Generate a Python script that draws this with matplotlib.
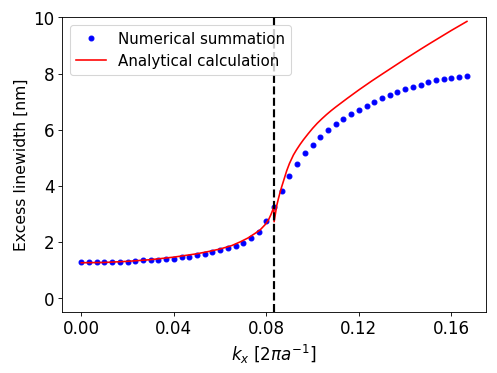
import numpy as np
import matplotlib
matplotlib.use("Agg")
import matplotlib.pyplot as plt

# Numerical summation (51 points, k_x from 0 to 1/6)
kx_num = np.linspace(0, 1/6, 51)
lw_num = [1.28, 1.28, 1.28, 1.28, 1.28, 1.29, 1.30, 1.33, 1.34, 1.35,
          1.36, 1.39, 1.41, 1.45, 1.48, 1.52, 1.57, 1.63, 1.70, 1.78,
          1.86, 1.98, 2.15, 2.37, 2.74, 3.24, 3.82, 4.34, 4.79, 5.16,
          5.47, 5.75, 5.99, 6.19, 6.39, 6.56, 6.71, 6.86, 6.99, 7.12,
          7.22, 7.34, 7.44, 7.53, 7.60, 7.69, 7.76, 7.81, 7.84, 7.88, 7.92]

# Analytical calculation
kx_ana = [0.0, 0.01, 0.02, 0.03, 0.04, 0.045, 0.05, 0.055, 0.06, 0.065,
          0.0686, 0.072, 0.075, 0.0773, 0.0795, 0.0810, 0.0820, 0.0828, 0.0832,
          0.08335, 0.0840, 0.0845, 0.0852, 0.0859, 0.0866, 0.0874, 0.0888,
          0.0900, 0.0917, 0.0930, 0.0946, 0.0960, 0.0980, 0.1000, 0.1020,
          0.1040, 0.1060, 0.1080, 0.1100, 0.1150,
          0.1200, 0.1256, 0.1300, 0.1350, 0.1400, 0.1465, 0.1508, 0.1550,
          0.1600, 0.1667]
lw_ana = [1.26, 1.27, 1.31, 1.37, 1.46, 1.52, 1.58, 1.66, 1.75, 1.87,
          2.00, 2.14, 2.30, 2.43, 2.62, 2.80, 2.98, 3.15, 3.28,
          2.72, 3.05, 3.30, 3.54, 3.76, 3.96, 4.17, 4.54,
          4.80, 5.10, 5.28, 5.48, 5.64, 5.85, 6.05, 6.23,
          6.39, 6.54, 6.68, 6.81, 7.12,
          7.42, 7.74, 7.98, 8.25, 8.52, 8.86, 9.08, 9.29,
          9.54, 9.86]

k_crit = 1/12
xticks = [0.00, 0.04, 0.08, 0.12, 0.16]
yticks = [0, 2, 4, 6, 8, 10]

fig = plt.figure(figsize=(6.4, 4.8), dpi=77.8)
ax = fig.add_axes([0.1245, 0.163, 0.852, 0.789])

ax.plot(kx_num, lw_num, 'b.', ms=9, label='Numerical summation')
ax.plot(kx_ana, lw_ana, 'r-', lw=1.5, label='Analytical calculation')
ax.axvline(k_crit, color='k', ls='--', lw=2)

ax.set_ylim(-0.5, 10)
ax.set_xticks(xticks)
ax.set_xticklabels([f"{t:.2f}" for t in xticks])
ax.set_yticks(yticks)
ax.tick_params(labelsize=15.5)
ax.set_xlabel(r'$k_x$ [$2\pi a^{-1}$]', fontsize=15.5)
ax.set_ylabel('Excess linewidth [nm]', fontsize=14.5)
ax.legend(loc='upper left', fontsize=14)

fig.savefig('out.png', dpi=77.8)
